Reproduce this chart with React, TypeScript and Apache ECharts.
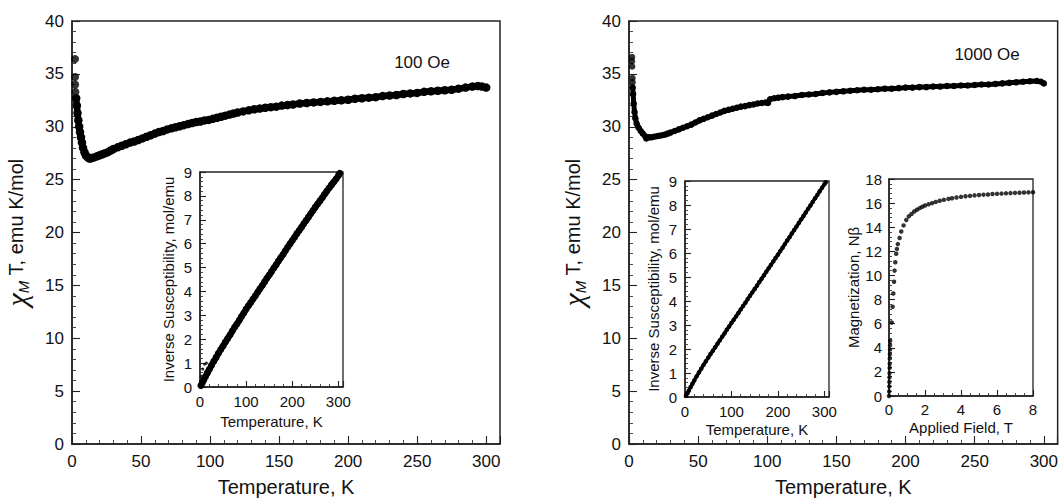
import React, { useEffect, useRef } from "react";
import * as echarts from "echarts";

// ---------- data ----------
// Left panel, 100 Oe : chi_M T vs T
const chiT100Isolated: [number, number][] = [
  [2.2, 36.4], [2.2, 34.7], [2.3, 34.0], [2.5, 33.3],
];
const chiT100: [number, number][] = [
  [3.0, 32.7], [3.5, 32.0], [4.0, 31.3], [4.6, 30.6], [5.2, 30.0], [5.8, 29.5], [6.5, 29.0], [7.2, 28.5],
  [8, 28.0], [9, 27.6], [10, 27.3], [11, 27.15], [12, 27.05], [13, 27.0], [14, 27.05], [16, 27.1],
  [18, 27.2], [20, 27.3], [22, 27.4], [24, 27.5], [26, 27.6], [28, 27.75], [30, 27.9], [33, 28.05],
  [36, 28.2], [39, 28.35], [42, 28.5], [45, 28.6], [48, 28.75], [51, 28.9], [54, 29.05], [57, 29.2],
  [60, 29.35], [63, 29.5], [66, 29.6], [69, 29.75], [72, 29.85], [75, 29.95], [78, 30.05], [81, 30.15],
  [84, 30.25], [87, 30.35], [90, 30.45], [93, 30.5], [96, 30.6], [99, 30.65], [102, 30.75], [105, 30.85],
  [108, 30.95], [111, 31.05], [114, 31.15], [117, 31.25], [120, 31.35], [124, 31.45], [128, 31.55],
  [132, 31.65], [136, 31.72], [140, 31.8], [144, 31.85], [148, 31.9], [152, 32.0], [156, 32.05],
  [160, 32.1], [165, 32.2], [170, 32.25], [175, 32.3], [180, 32.35], [185, 32.4], [190, 32.45],
  [195, 32.5], [200, 32.55], [205, 32.65], [210, 32.7], [215, 32.75], [220, 32.8], [225, 32.9],
  [230, 32.95], [235, 33.0], [240, 33.1], [245, 33.15], [250, 33.2], [255, 33.3], [260, 33.35],
  [265, 33.4], [270, 33.45], [275, 33.5], [280, 33.6], [285, 33.7], [290, 33.8], [294, 33.85],
  [297, 33.8], [300, 33.7],
];
// Left inset: inverse susceptibility vs T
const inv100: [number, number][] = [
  [2, 0.06], [5, 0.18], [8, 0.29], [12, 0.44], [16, 0.59], [20, 0.73], [25, 0.91], [30, 1.08],
  [35, 1.24], [40, 1.41], [45, 1.57], [50, 1.72], [55, 1.88], [60, 2.03], [65, 2.18], [70, 2.34],
  [75, 2.5], [80, 2.64], [85, 2.79], [90, 2.95], [95, 3.1], [100, 3.26], [105, 3.4], [110, 3.54],
  [115, 3.68], [120, 3.82], [125, 3.97], [130, 4.11], [135, 4.25], [140, 4.4], [145, 4.55],
  [150, 4.69], [155, 4.83], [160, 4.98], [165, 5.12], [170, 5.27], [175, 5.41], [180, 5.55],
  [185, 5.7], [190, 5.85], [195, 5.99], [200, 6.13], [205, 6.27], [210, 6.42], [215, 6.55],
  [220, 6.69], [225, 6.83], [230, 6.97], [235, 7.11], [240, 7.25], [245, 7.39], [250, 7.53],
  [255, 7.66], [260, 7.79], [265, 7.92], [270, 8.07], [275, 8.2], [280, 8.33], [285, 8.46],
  [290, 8.58], [295, 8.71], [300, 8.85], [303, 8.95],
];
const inv100LowT: [number, number][] = [[3, 0.45], [6, 0.75], [10, 0.95], [14, 1.0]];

// Right panel, 1000 Oe : chi_M T vs T
const chiT1000Isolated: [number, number][] = [
  [2.2, 36.6], [2.2, 36.2], [2.3, 35.7], [2.5, 34.6], [2.6, 34.2],
];
const chiT1000: [number, number][] = [
  [2.7, 33.7], [3.0, 33.1], [3.4, 32.2], [4.0, 31.4], [4.6, 30.8], [5.5, 30.3], [7, 29.9], [8.5, 29.6],
  [10, 29.35], [11.8, 29.1], [12.5, 28.9], [14, 29.0], [16, 29.0], [18, 29.05], [20, 29.1], [22, 29.15],
  [24, 29.2], [26, 29.26], [28, 29.35], [30, 29.45], [33, 29.6], [36, 29.75], [39, 29.9], [42, 30.05],
  [45, 30.2], [48, 30.4], [51, 30.6], [54, 30.75], [57, 30.9], [60, 31.05], [63, 31.2], [66, 31.35],
  [69, 31.5], [72, 31.6], [75, 31.7], [78, 31.8], [81, 31.9], [84, 31.95], [87, 32.05], [90, 32.1],
  [93, 32.2], [96, 32.25], [99, 32.3], [100.5, 32.25], [102, 32.6], [105, 32.7], [108, 32.75],
  [111, 32.8], [115, 32.85], [120, 32.9], [125, 33.0], [130, 33.05], [135, 33.1], [140, 33.2],
  [145, 33.25], [150, 33.3], [155, 33.35], [160, 33.4], [165, 33.45], [170, 33.5], [175, 33.5],
  [180, 33.55], [185, 33.6], [190, 33.6], [195, 33.65], [200, 33.7], [205, 33.7], [210, 33.75],
  [215, 33.75], [220, 33.8], [225, 33.8], [230, 33.85], [235, 33.85], [240, 33.9], [245, 33.9],
  [250, 33.95], [255, 34.0], [260, 34.0], [265, 34.05], [270, 34.1], [275, 34.15], [280, 34.2],
  [285, 34.25], [290, 34.3], [295, 34.33], [298, 34.25], [300, 34.1],
];
// Right inset 1: inverse susceptibility vs T
const inv1000: [number, number][] = [
  [2, 0.055], [5, 0.15], [8, 0.26], [12, 0.41], [16, 0.55], [20, 0.69], [25, 0.86], [30, 1.02],
  [35, 1.18], [40, 1.34], [45, 1.49], [50, 1.64], [55, 1.79], [60, 1.93], [65, 2.07], [70, 2.22],
  [75, 2.36], [80, 2.51], [85, 2.65], [90, 2.8], [95, 2.94], [100, 3.09], [105, 3.22], [110, 3.36],
  [115, 3.5], [120, 3.65], [125, 3.79], [130, 3.93], [135, 4.08], [140, 4.22], [145, 4.36],
  [150, 4.5], [155, 4.64], [160, 4.79], [165, 4.93], [170, 5.07], [175, 5.22], [180, 5.36],
  [185, 5.5], [190, 5.65], [195, 5.79], [200, 5.93], [205, 6.08], [210, 6.22], [215, 6.37],
  [220, 6.52], [225, 6.66], [230, 6.81], [235, 6.96], [240, 7.1], [245, 7.25], [250, 7.4],
  [255, 7.54], [260, 7.69], [265, 7.84], [270, 7.98], [275, 8.13], [280, 8.28], [285, 8.42],
  [290, 8.57], [295, 8.72], [300, 8.86], [303, 8.95],
];
// Right inset 2: magnetization vs applied field
const magnetization: [number, number][] = [
  [0, 0], [0.01, 0.38], [0.015, 0.8], [0.02, 1.16], [0.025, 1.55], [0.03, 1.9], [0.035, 2.33],
  [0.04, 2.67], [0.045, 3.12], [0.05, 3.46], [0.055, 3.85], [0.06, 4.2], [0.065, 4.58],
  [0.15, 6.1], [0.2, 7.4], [0.24, 8.5], [0.28, 9.48], [0.31, 10.4], [0.35, 11.1], [0.4, 11.8],
  [0.44, 12.2], [0.49, 12.6], [0.59, 13.1], [0.68, 13.65], [0.81, 14.15], [0.96, 14.6],
  [1.1, 14.9], [1.25, 15.1], [1.4, 15.3], [1.55, 15.45], [1.7, 15.58], [1.85, 15.7], [2.0, 15.8],
  [2.2, 15.9], [2.4, 16.0], [2.6, 16.1], [2.82, 16.2], [3.05, 16.27], [3.3, 16.35], [3.5, 16.4],
  [3.75, 16.47], [4.0, 16.52], [4.25, 16.57], [4.5, 16.6], [4.75, 16.64], [5.0, 16.67],
  [5.25, 16.7], [5.5, 16.72], [5.75, 16.75], [6.0, 16.77], [6.25, 16.79], [6.5, 16.81],
  [6.75, 16.83], [7.0, 16.85], [7.25, 16.86], [7.5, 16.88], [7.75, 16.89], [8.0, 16.9],
];

const fieldLabels = ["100 Oe", "1000 Oe"];
const mainXName = "Temperature, K";
const insetXName = "Temperature, K";
const invYName = "Inverse Susceptibility, mol/emu";
const magXName = "Applied Field, T";
const magYName = "Magnetization, Nβ";

const FONT = '"Liberation Sans", Arial, Helvetica, sans-serif';

type AxisOpts = {
  gridIndex: number;
  min: number;
  max: number;
  interval: number;
  minorSplit: number;
  fontSize: number;
  labelMargin: number;
  name: string;
  nameGap: number;
  nameSize: number;
  tickLen: number;
  minorLen: number;
  lastLabel: number;
  rich?: any;
};

function valueAxis(o: AxisOpts) {
  return {
    type: "value",
    gridIndex: o.gridIndex,
    min: o.min,
    max: o.max,
    interval: o.interval,
    name: o.name,
    nameLocation: "middle",
    nameGap: o.nameGap,
    nameTextStyle: {
      fontSize: o.nameSize,
      color: "#111",
      fontFamily: FONT,
      rich: o.rich,
    },
    axisLine: { show: true, onZero: false, lineStyle: { color: "#222", width: 1.5 } },
    axisTick: { show: true, inside: true, length: o.tickLen, lineStyle: { color: "#222", width: 1.1 } },
    minorTick: { show: true, splitNumber: o.minorSplit, length: o.minorLen, lineStyle: { color: "#333", width: 0.9 } },
    splitLine: { show: false },
    minorSplitLine: { show: false },
    axisLabel: {
      color: "#111",
      fontSize: o.fontSize,
      fontFamily: FONT,
      margin: o.labelMargin,
      formatter: (v: number) => (v > o.lastLabel + 1e-9 ? "" : String(v)),
    },
  };
}

const chiRich = {
  chi: { fontSize: 30, fontFamily: '"Liberation Serif", "DejaVu Serif", serif', fontStyle: "italic", color: "#111" },
  sub: { fontSize: 15, fontFamily: FONT, fontStyle: "italic", color: "#111", verticalAlign: "bottom", padding: [10, 0, 0, 0] },
  txt: { fontSize: 20, fontFamily: FONT, color: "#111" },
};
const chiName = "{chi|χ}{sub|M}{txt| T, emu K/mol}";

function buildOption() {
  const grids = [
    { left: 69, top: 21, width: 431, height: 434, show: true, borderColor: "#222", borderWidth: 1.5, backgroundColor: "transparent" },
    { left: 200, top: 172, width: 143, height: 215, show: true, borderColor: "#222", borderWidth: 1.3, backgroundColor: "#fff" },
    { left: 629, top: 21, width: 430, height: 434, show: true, borderColor: "#222", borderWidth: 1.5, backgroundColor: "transparent" },
    { left: 685, top: 181, width: 144, height: 216, show: true, borderColor: "#222", borderWidth: 1.3, backgroundColor: "#fff" },
    { left: 889, top: 179, width: 144, height: 217, show: true, borderColor: "#222", borderWidth: 1.3, backgroundColor: "#fff" },
  ];

  const mainX = (g: number) =>
    valueAxis({ gridIndex: g, min: 0, max: 310, interval: 50, minorSplit: 5, fontSize: 17, labelMargin: 9, name: mainXName, nameGap: 33, nameSize: 20, tickLen: 8, minorLen: 4, lastLabel: 300 });
  const mainY = (g: number) =>
    valueAxis({ gridIndex: g, min: 0, max: 40, interval: 5, minorSplit: 5, fontSize: 17, labelMargin: 8, name: chiName, nameGap: 41, nameSize: 20, tickLen: 8, minorLen: 4, lastLabel: 40, rich: chiRich });
  const insetX = (g: number, gap: number) =>
    valueAxis({ gridIndex: g, min: 0, max: 310, interval: 100, minorSplit: 5, fontSize: 15, labelMargin: 7, name: insetXName, nameGap: gap, nameSize: 15, tickLen: 6, minorLen: 3, lastLabel: 300 });
  const insetY = (g: number) =>
    valueAxis({ gridIndex: g, min: 0, max: 9, interval: 1, minorSplit: 5, fontSize: 15, labelMargin: 8, name: invYName, nameGap: 24, nameSize: 15, tickLen: 6, minorLen: 3, lastLabel: 9 });

  const xAxis = [
    mainX(0),
    insetX(1, 27),
    mainX(2),
    insetX(3, 25),
    valueAxis({ gridIndex: 4, min: 0, max: 8, interval: 2, minorSplit: 4, fontSize: 15, labelMargin: 6, name: magXName, nameGap: 24, nameSize: 15, tickLen: 6, minorLen: 3, lastLabel: 8 }),
  ];
  const yAxis = [
    mainY(0),
    insetY(1),
    mainY(2),
    insetY(3),
    valueAxis({ gridIndex: 4, min: 0, max: 18, interval: 2, minorSplit: 5, fontSize: 15, labelMargin: 7, name: magYName, nameGap: 27, nameSize: 15, tickLen: 6, minorLen: 3, lastLabel: 18 }),
  ];

  const lineDots = (idx: number, data: [number, number][], size: number, width: number) => ({
    type: "line",
    xAxisIndex: idx,
    yAxisIndex: idx,
    data,
    symbol: "circle",
    symbolSize: size,
    showSymbol: true,
    showAllSymbol: true,
    lineStyle: { color: "#000", width },
    itemStyle: { color: "#000" },
    z: 3,
  });
  const dots = (idx: number, data: [number, number][], size: number) => ({
    type: "scatter",
    xAxisIndex: idx,
    yAxisIndex: idx,
    data,
    symbol: "circle",
    symbolSize: size,
    itemStyle: { color: "#000" },
    z: 3,
  });

  return {
    animation: false,
    backgroundColor: "#fff",
    textStyle: { fontFamily: FONT },
    grid: grids,
    xAxis,
    yAxis,
    series: [
      dots(0, chiT100Isolated, 8),
      lineDots(0, chiT100, 8.5, 6.5),
      lineDots(1, inv100, 7, 6),
      dots(1, inv100LowT, 3),
      dots(2, chiT1000Isolated, 6.5),
      lineDots(2, chiT1000, 6.5, 5),
      lineDots(3, inv1000, 4.5, 3.5),
      dots(4, magnetization, 4.5),
    ],
    graphic: [
      { type: "text", x: 422, y: 62, style: { text: fieldLabels[0], fontSize: 17, fontFamily: FONT, fill: "#111", align: "center", verticalAlign: "middle" } },
      { type: "text", x: 987, y: 54, style: { text: fieldLabels[1], fontSize: 17, fontFamily: FONT, fill: "#111", align: "center", verticalAlign: "middle" } },
    ],
  };
}

export default function App() {
  const ref = useRef<HTMLDivElement>(null);
  useEffect(() => {
    if (!ref.current) return;
    const chart = echarts.init(ref.current, undefined, { renderer: "svg" });
    chart.setOption(buildOption() as any);
    return () => chart.dispose();
  }, []);
  return (
    <div
      ref={ref}
      style={{ position: "absolute", left: 0, top: 0, width: 1061, height: 502, background: "#fff" }}
    />
  );
}
